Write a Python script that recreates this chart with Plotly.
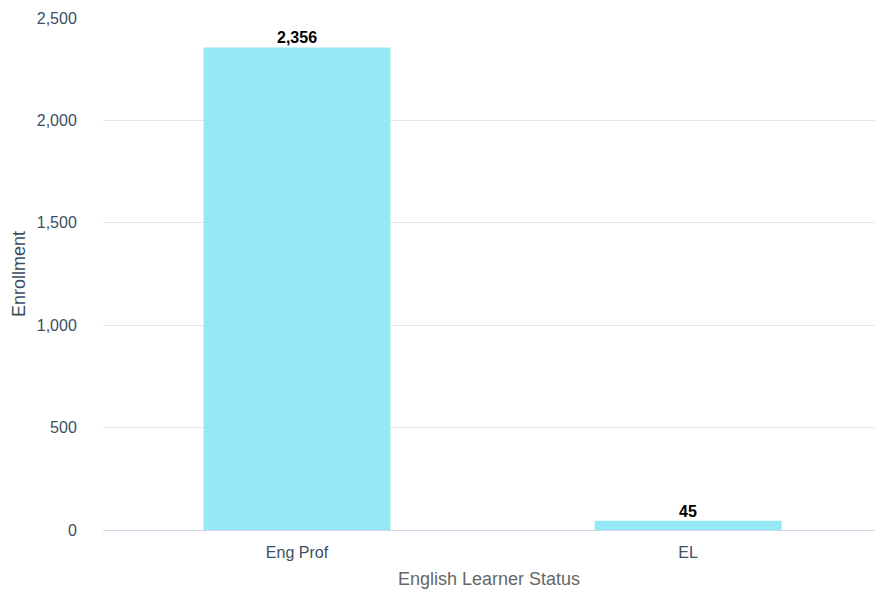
import plotly.graph_objects as go

categories = ["Eng Prof", "EL"]
enrollment = [2356, 45]
y_ticks = [0, 500, 1000, 1500, 2000, 2500]

fig = go.Figure(
    go.Bar(
        x=categories,
        y=enrollment,
        marker=dict(color="#95E8F5", line=dict(width=0)),
        width=0.478,
        cliponaxis=False,
    )
)

# value labels sitting just above each bar
for cat, val in zip(categories, enrollment):
    fig.add_annotation(
        x=cat,
        y=val,
        text=f"<b>{val:,}</b>",
        showarrow=False,
        yanchor="bottom",
        yshift=-1,
        font=dict(family="Arial, Liberation Sans", size=16, color="#000000"),
    )

fig.update_layout(
    width=875,
    height=593,
    margin=dict(l=103, r=0, t=18, b=63),
    paper_bgcolor="white",
    plot_bgcolor="white",
    font=dict(family="Arial, Liberation Sans", size=16, color="#3c4e62"),
    showlegend=False,
)

fig.update_xaxes(
    range=[-0.496, 1.478],
    showline=True,
    linecolor="#ccd6eb",
    linewidth=1,
    showgrid=False,
    ticks="outside",
    ticklen=8,
    tickcolor="rgba(0,0,0,0)",
    tickfont=dict(size=16, color="#3c4e62"),
    title=dict(text="English Learner Status", font=dict(size=18, color="#666666"), standoff=12),
)

fig.update_yaxes(
    range=[0, 2500],
    tickvals=y_ticks,
    tickformat=",",
    showgrid=True,
    gridcolor="#e6e6e6",
    gridwidth=1,
    zeroline=False,
    showline=False,
    ticks="outside",
    ticklen=22,
    tickcolor="rgba(0,0,0,0)",
    tickfont=dict(size=16, color="#3c4e62"),
    title=dict(text="Enrollment", font=dict(size=18, color="#3c4e62"), standoff=6),
)

fig.write_html("out.html")
